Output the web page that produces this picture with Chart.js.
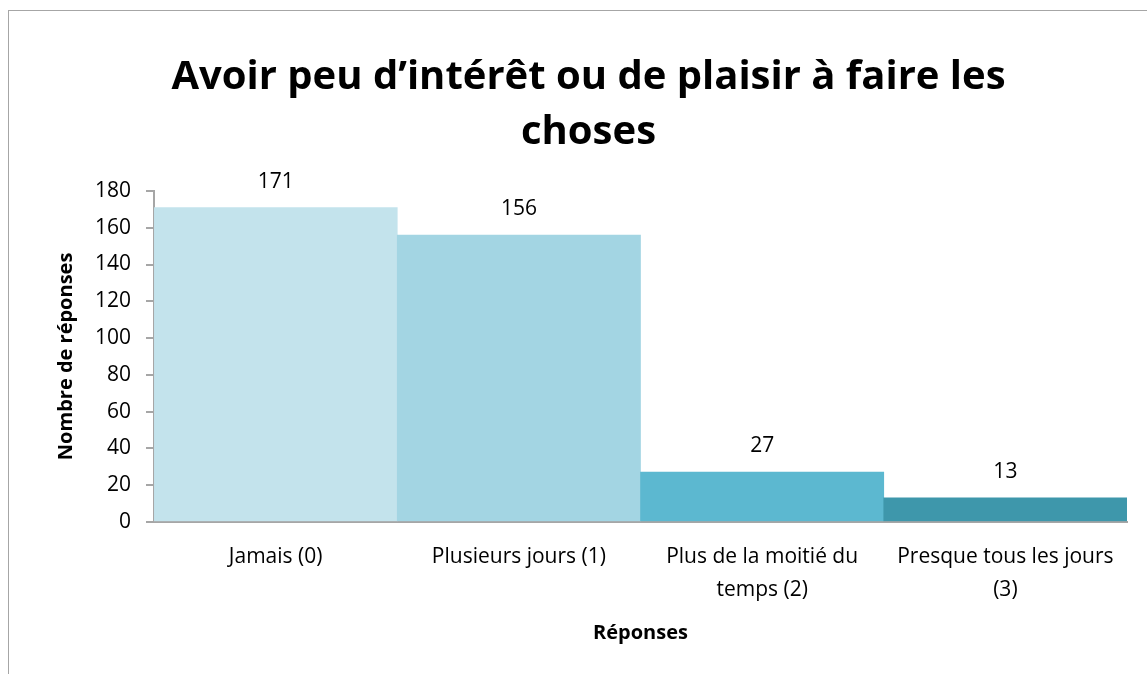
<!DOCTYPE html>
<html>
<head>
<meta charset="utf-8">
<script src="https://cdn.jsdelivr.net/npm/chart.js@4.4.1/dist/chart.umd.min.js"></script>
<style>
  html, body { margin: 0; padding: 0; background: #fff; overflow: hidden; }
  #frame {
    position: absolute; left: 8px; top: 10px; width: 1400px; height: 900px;
    border-left: 1.5px solid #a6a6a6; border-top: 1.5px solid #a6a6a6;
  }
  #wrap { position: absolute; left: 0; top: 0; width: 1147px; height: 674px; }
</style>
</head>
<body>
<div id="frame"></div>
<div id="wrap"><canvas id="chart" width="1147" height="674"></canvas></div>
<script>
/* ================= DATA ================= */
const categories = [
  "Jamais (0)",
  "Plusieurs jours (1)",
  ["Plus de la moitié du", "temps (2)"],
  ["Presque tous les jours", "(3)"]
];
const responses = [171, 156, 27, 13];
const barColors = ["#c3e3ec", "#a3d5e3", "#5cb8d0", "#3e97ab"];
const titleLines = ["Avoir peu d\u2019intérêt ou de plaisir à faire les", "choses"];
const FONT = "'Open Sans', Calibri, sans-serif";

/* ================= VALUE LABELS ================= */
const valueLabels = {
  id: "valueLabels",
  afterDatasetsDraw(chart) {
    const ctx = chart.ctx;
    const meta = chart.getDatasetMeta(0);
    ctx.save();
    ctx.font = "21px " + FONT;
    ctx.fillStyle = "#000";
    ctx.textAlign = "center";
    ctx.textBaseline = "middle";
    meta.data.forEach((bar, i) => {
      ctx.fillText(String(responses[i]), bar.x, bar.y - 26);
    });
    ctx.restore();
  }
};

/* ================= CHART ================= */
new Chart(document.getElementById("chart"), {
  type: "bar",
  data: {
    labels: categories,
    datasets: [{
      data: responses,
      backgroundColor: barColors,
      borderWidth: 0,
      barPercentage: 1,
      categoryPercentage: 1
    }]
  },
  options: {
    responsive: false,
    animation: false,
    layout: { padding: { left: 50, right: 20, top: 50, bottom: 25 } },
    plugins: {
      legend: { display: false },
      tooltip: { enabled: false },
      title: {
        display: true,
        text: titleLines,
        color: "#000",
        font: { family: FONT, size: 40, weight: "bold", lineHeight: 1.375 },
        padding: { top: 0, bottom: 31 }
      }
    },
    scales: {
      x: {
        grid: { display: false },
        border: { display: true, color: "#a6a6a6", width: 2 },
        ticks: {
          color: "#000",
          font: { family: FONT, size: 21, lineHeight: 1.6 },
          maxRotation: 0,
          padding: 10
        },
        title: {
          display: true,
          text: "Réponses",
          color: "#000",
          font: { family: FONT, size: 20, weight: "bold" },
          padding: { top: 4 }
        }
      },
      y: {
        min: 0,
        max: 180,
        ticks: {
          stepSize: 20,
          color: "#000",
          font: { family: FONT, size: 21 },
          padding: 15
        },
        grid: {
          drawOnChartArea: false,
          drawTicks: true,
          tickLength: 8,
          color: "#a6a6a6",
          lineWidth: 2
        },
        border: { display: true, color: "#a6a6a6", width: 2 },
        title: {
          display: true,
          text: "Nombre de réponses",
          color: "#000",
          font: { family: FONT, size: 20, weight: "bold" },
          padding: { bottom: 2 }
        }
      }
    }
  },
  plugins: [valueLabels]
});
</script>
</body>
</html>
